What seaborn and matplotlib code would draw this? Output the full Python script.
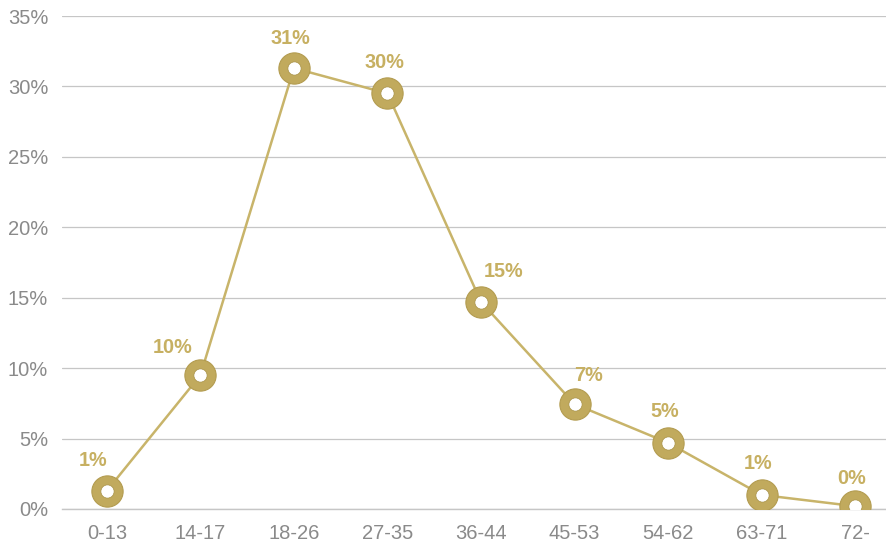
import matplotlib
matplotlib.use("Agg")
import matplotlib.pyplot as plt
import seaborn as sns
import pandas as pd
from matplotlib.ticker import FixedLocator

categories = ["0-13", "14-17", "18-26", "27-35", "36-44", "45-53", "54-62", "63-71", "72-"]
values = [1.3, 9.5, 31.3, 29.5, 14.7, 7.45, 4.7, 1.0, 0.2]
labels = ["1%", "10%", "31%", "30%", "15%", "7%", "5%", "1%", "0%"]
yticks = [0, 5, 10, 15, 20, 25, 30, 35]
ytick_labels = ["0%", "5%", "10%", "15%", "20%", "25%", "30%", "35%"]

# label offsets in pixels (dx, dy)
label_offsets = [(-14, 30), (-28, 28), (-4, 30), (-3, 31), (23, 30), (14, 29), (-3, 31), (-4, 31), (-4, 28)]

sns.set_style("white")
plt.rcParams["font.family"] = ["Liberation Sans", "DejaVu Sans"]

df = pd.DataFrame({"cat": categories, "val": values, "pos": range(len(categories))})

fig = plt.figure(figsize=(8.86, 5.45), dpi=100)
ax = fig.add_axes([62 / 886, 36 / 545, 1 - 62 / 886, (509 - 16) / 545])

line_col = "#c8b46a"
ring_col = "#c1aa5d"
label_col = "#c7b062"

sns.lineplot(data=df, x="pos", y="val", ax=ax, color=line_col, linewidth=1.8, sort=False, zorder=3)
ax.plot(df["pos"], df["val"], linestyle="none", marker="o", markersize=22.5,
        markerfacecolor=ring_col, markeredgecolor="#b39c50", markeredgewidth=0.8, zorder=4)
ax.plot(df["pos"], df["val"], linestyle="none", marker="o", markersize=9.5,
        markerfacecolor="white", markeredgecolor="#a89248", markeredgewidth=0.5, zorder=5)

for i, (v, lab) in enumerate(zip(values, labels)):
    dx, dy = label_offsets[i]
    ax.annotate(lab, (i, v), xytext=(dx * 0.72, dy * 0.72), textcoords="offset points",
                ha="center", va="center", fontsize=14.3, fontweight="bold", color=label_col, zorder=6)

ax.set_xlim(-0.48, 8.33)
ax.set_ylim(0, 35)
ax.set_yticks(yticks)
ax.set_yticklabels(ytick_labels)
ax.set_xticks(range(len(categories)))
ax.set_xticklabels(categories)
ax.xaxis.set_minor_locator(FixedLocator([i + 0.5 for i in range(len(categories) - 1)]))

ax.grid(axis="y", color="#c6c6c6", linewidth=0.9)
ax.set_axisbelow(True)
for s in ["top", "right", "left"]:
    ax.spines[s].set_visible(False)
ax.spines["bottom"].set_color("#c6c6c6")
ax.spines["bottom"].set_linewidth(1.0)

ax.tick_params(axis="x", which="major", length=0, pad=11, labelsize=14.5, labelcolor="#8a8a8a")
ax.tick_params(axis="x", which="minor", length=10, width=1.0, color="#c6c6c6")
ax.tick_params(axis="y", length=0, pad=10, labelsize=14.5, labelcolor="#8a8a8a")
ax.set_xlabel("")
ax.set_ylabel("")

fig.savefig("out.png", dpi=100)
